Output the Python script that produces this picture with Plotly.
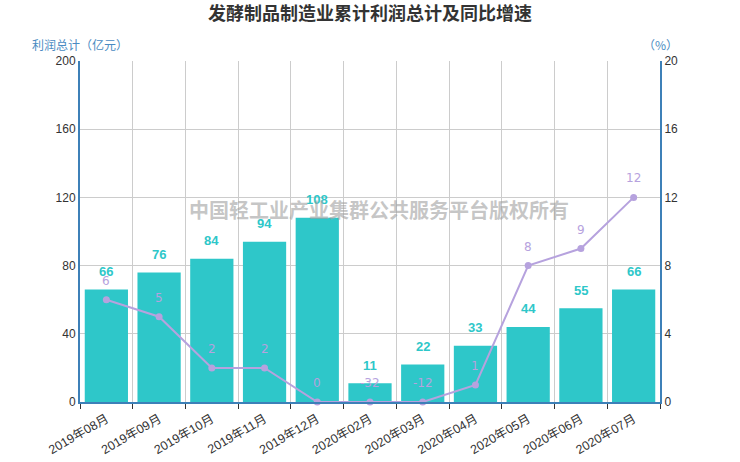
import numpy as np
import plotly.graph_objects as go

categories = ["2019年08月", "2019年09月", "2019年10月", "2019年11月", "2019年12月",
              "2020年02月", "2020年03月", "2020年04月", "2020年05月", "2020年06月", "2020年07月"]
profit = [66, 76, 84, 94, 108, 11, 22, 33, 44, 55, 66]
growth = [6, 5, 2, 2, 0, -32, -12, 1, 8, 9, 12]
left_ticks = [0, 40, 80, 120, 160, 200]
right_ticks = [0, 4, 8, 12, 16, 20]

FONT = "Noto Sans CJK SC, Noto Sans, sans-serif"
TICK_FONT = "Liberation Sans, Arial, Noto Sans CJK SC, sans-serif"
BAR_C = "#2ec7c9"
LINE_C = "#b6a2de"
AXIS_C = "#3d80b8"

growth_plot = np.maximum(np.array(growth, dtype=float), right_ticks[0])

fig = go.Figure()
fig.add_trace(go.Bar(
    x=categories, y=profit, marker_color=BAR_C, marker_line_width=0,
    name="利润总计", yaxis="y"))
fig.add_trace(go.Scatter(
    x=categories, y=growth_plot, mode="lines+markers",
    line=dict(color=LINE_C, width=2), marker=dict(color=LINE_C, size=7),
    cliponaxis=False, name="同比增速", yaxis="y2"))

annotations = []
for c, v in zip(categories, profit):
    annotations.append(dict(
        x=c, y=v, xref="x", yref="y", text=f"<b>{v}</b>", showarrow=False,
        yanchor="middle", yshift=18,
        font=dict(color=BAR_C, size=13, family="Liberation Sans, Arial, sans-serif")))
for c, v, p in zip(categories, growth, growth_plot):
    annotations.append(dict(
        x=c, y=p, xref="x", yref="y2", text=str(v), showarrow=False,
        yanchor="middle", yshift=19,
        font=dict(color=LINE_C, size=12, family="DejaVu Sans, sans-serif")))
annotations += [
    dict(text="利润总计（亿元）", xref="paper", yref="paper", x=-0.086, y=1.0,
         xanchor="left", yanchor="bottom", yshift=6, showarrow=False,
         font=dict(size=12, color="#4a8bc2", family=FONT)),
    dict(text="（%）", xref="paper", yref="paper", x=1.0, y=1.0,
         xanchor="center", yanchor="bottom", yshift=6, showarrow=False,
         font=dict(size=12, color="#4a8bc2", family=FONT)),
    dict(text="<b>中国轻工业产业集群公共服务平台版权所有</b>", xref="paper", yref="paper",
         x=0.516, y=0.565, xanchor="center", yanchor="middle", showarrow=False,
         font=dict(size=20, color="rgba(160,160,160,0.6)", family=FONT)),
]

fig.update_layout(
    width=740, height=462,
    margin=dict(l=80, r=80, t=61, b=60),
    paper_bgcolor="white", plot_bgcolor="white",
    showlegend=False, bargap=0.18,
    font=dict(family=FONT, color="#333", size=12),
    title=dict(text="<b>发酵制品制造业累计利润总计及同比增速</b>", x=0.5, xanchor="center",
               y=0.97, yanchor="middle", font=dict(size=18, color="#333", family=FONT)),
    xaxis=dict(type="category", tickson="boundaries", showgrid=True, gridcolor="#cccccc",
               range=[-0.5, len(categories) - 0.5],
               ticks="outside", ticklen=5, tickcolor="#333", tickangle=-30,
               ticklabelstandoff=3,
               tickfont=dict(size=12.5, color="#333", family=TICK_FONT),
               showline=True, linecolor=AXIS_C,
               linewidth=2, automargin=False),
    yaxis=dict(range=[0, 200], tickvals=left_ticks, showgrid=True, gridcolor="#cccccc",
               showline=True, linecolor=AXIS_C, linewidth=2, zeroline=False,
               ticks="", tickfont=dict(size=12, color="#333", family=TICK_FONT),
               automargin=False),
    yaxis2=dict(range=[0, 20], tickvals=right_ticks, overlaying="y", side="right",
                showgrid=False, showline=True, linecolor=AXIS_C, linewidth=2,
                zeroline=False, ticks="", tickfont=dict(size=12, color="#333", family=TICK_FONT),
                automargin=False),
    annotations=annotations,
)

fig.write_html("out.html", config={"displayModeBar": False},
               post_script="document.body.style.margin='0';")
